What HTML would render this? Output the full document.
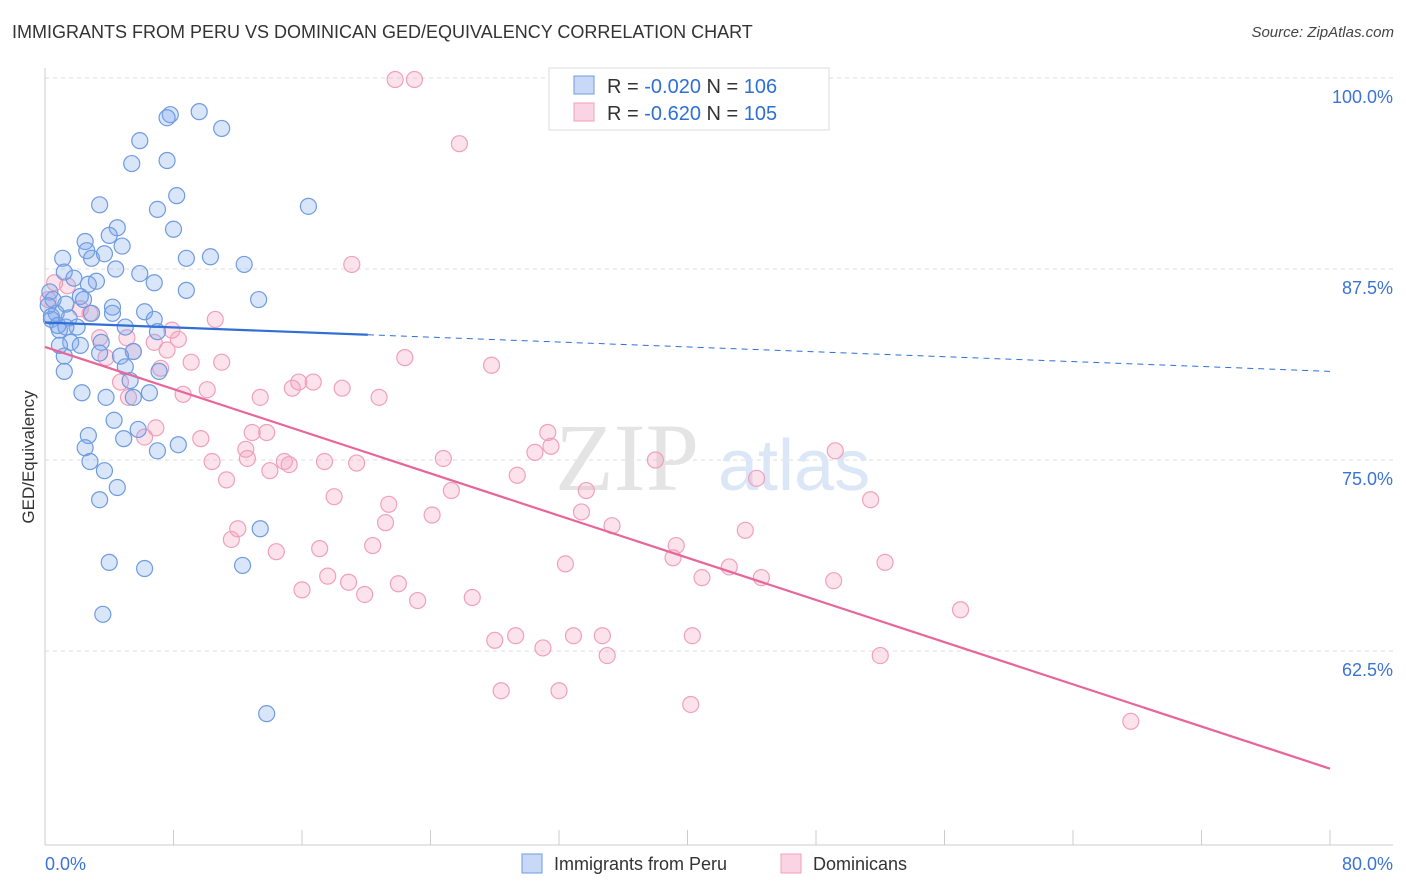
<!DOCTYPE html>
<html><head><meta charset="utf-8"><style>
body{margin:0;background:#fff;font-family:"Liberation Sans",sans-serif;}
#wrap{position:relative;width:1406px;height:892px;overflow:hidden;}
.t{position:absolute;white-space:nowrap;}
</style></head><body>
<div id="wrap">
<div class="t" style="left:12px;top:22px;font-size:18px;color:#333;">IMMIGRANTS FROM PERU VS DOMINICAN GED/EQUIVALENCY CORRELATION CHART</div>
<div class="t" style="right:12px;top:24px;font-size:15px;color:#444;font-style:italic;">Source: ZipAtlas.com</div>
<svg id="svg" width="1406" height="892" style="position:absolute;left:0;top:0"></svg>
</div>
<script>
const blueX=[7.8,7.6,9.6,11.0,5.9,5.4,7.6,8.2,7.0,16.4,3.4,4.5,4.0,8.0,2.5,4.8,2.6,1.1,2.9,3.7,8.8,10.3,12.4,1.2,1.8,4.4,5.9,6.8,3.2,2.7,8.8,13.3,0.3,0.5,1.3,2.2,2.4,4.2,6.2,0.7,1.5,2.9,4.2,6.8,0.4,0.9,2.0,5.0,7.0,1.6,3.5,2.2,5.5,3.4,1.2,4.7,5.0,7.1,1.2,5.3,2.3,3.8,5.5,6.5,4.3,5.8,2.7,4.9,8.3,2.5,7.0,2.8,3.7,4.5,3.4,13.4,4.0,6.2,12.3,3.6,13.8,0.2,0.4,0.8,1.3,0.9];
const blueY=[97.6,97.4,97.8,96.7,95.9,94.4,94.6,92.3,91.4,91.6,91.7,90.2,89.7,90.1,89.3,89.0,88.7,88.2,88.2,88.5,88.2,88.3,87.8,87.3,86.9,87.5,87.2,86.6,86.7,86.5,86.1,85.5,86.0,85.5,85.2,85.7,85.5,85.0,84.7,84.6,84.3,84.6,84.6,84.2,84.2,83.5,83.7,83.7,83.4,82.7,82.7,82.5,82.1,82.0,81.8,81.8,81.1,80.8,80.8,80.2,79.4,79.1,79.1,79.4,77.6,77.0,76.6,76.4,76.0,75.8,75.6,74.9,74.3,73.2,72.4,70.5,68.3,67.9,68.1,64.9,58.4,85.1,84.4,83.8,83.7,82.5];
const pinkX=[21.8,23.0,25.8,19.1,0.6,1.4,0.2,2.2,2.8,10.6,7.9,8.3,3.4,5.1,6.8,7.6,5.5,3.8,9.1,11.0,22.4,27.8,7.2,4.7,15.8,16.7,15.4,18.5,8.6,10.1,13.4,20.8,5.2,6.9,9.7,12.9,13.8,6.2,31.3,31.5,12.5,12.6,10.4,14.9,15.2,17.4,19.4,24.8,30.5,38.0,49.2,14.0,11.3,29.4,44.3,25.3,18.0,21.4,51.4,33.4,24.1,21.2,35.3,43.6,12.0,11.6,20.4,17.1,14.4,39.3,39.1,32.4,42.6,52.3,17.6,18.9,22.0,40.9,44.6,49.1,16.0,19.9,23.2,26.6,57.0,29.3,28.0,32.9,34.7,40.3,31.0,35.0,52.0,28.4,32.0,40.2,67.6,33.7];
const pinkY=[99.9,99.9,95.7,87.8,86.6,86.4,85.5,84.9,84.6,84.2,83.5,82.9,83.0,83.0,82.7,82.2,82.1,81.7,81.4,81.4,81.7,81.2,81.0,80.1,80.1,80.1,79.7,79.7,79.3,79.6,79.1,79.1,79.1,77.1,76.4,76.8,76.8,76.5,76.8,75.9,75.7,75.1,74.9,74.9,74.7,74.9,74.8,75.1,75.5,75.0,75.6,74.3,73.7,74.0,73.8,73.0,72.6,72.1,72.4,71.6,71.4,70.9,70.7,70.4,70.5,69.8,69.4,69.2,69.0,69.4,68.6,68.2,68.0,68.3,67.4,67.0,66.9,67.3,67.3,67.1,66.5,66.2,65.8,66.0,65.2,63.5,63.2,63.5,63.5,63.5,62.7,62.2,62.2,59.9,59.9,59.0,57.9,73.0];
const blueTrend=[84.0,80.8];
const pinkTrend=[82.4,54.8];
const yTicks=[100,87.5,75,62.5];
const xTickVals=[0,8,16,24,32,40,48,56,64,72,80];

const NS="http://www.w3.org/2000/svg",svg=document.getElementById('svg');
const X=v=>45+v/80*1285, Y=v=>78+(100-v)*15.28;
function mk(t,a,p){const e=document.createElementNS(NS,t);for(const k in a)e.setAttribute(k,a[k]);(p||svg).appendChild(e);return e;}
yTicks.forEach(v=>{const l=mk('line',{x1:45,x2:1393,y1:Y(v),y2:Y(v),stroke:'#ddd','stroke-dasharray':'4,4'});

const t=mk('text',{x:1393,y:Y(v)+25,'text-anchor':'end','font-size':18,fill:'#3b73d6'});t.textContent=(v===100?'100.0':v.toFixed(1))+'%';
});
mk('line',{x1:45,x2:45,y1:68,y2:845,stroke:'#ccc'});
mk('line',{x1:45,x2:1393,y1:845,y2:845,stroke:'#ccc'});
xTickVals.forEach(v=>{const l=mk('line',{x1:X(v),x2:X(v),y1:830,y2:845,stroke:'#ccc'});});
const tx0=mk('text',{x:45,y:870,'font-size':18,fill:'#3b73d6'});tx0.textContent='0.0%';
const tx1=mk('text',{x:1393,y:870,'text-anchor':'end','font-size':18,fill:'#3b73d6'});tx1.textContent='80.0%';
const yt=mk('text',{x:34,y:457,'font-size':17,fill:'#333','text-anchor':'middle',transform:'rotate(-90 34 457)'});yt.textContent='GED/Equivalency';
// watermark
const w1=mk('text',{x:555,y:490,'font-size':96,fill:'#e4e4e4','font-family':'Liberation Serif'});w1.textContent='ZIP';
const w2=mk('text',{x:718,y:490,'font-size':72,fill:'#dbe6f6'});w2.textContent='atlas';
pinkX.forEach((x,i)=>{const c=mk('circle',{cx:X(x),cy:Y(pinkY[i]),r:8,fill:'rgba(244,160,190,0.3)',stroke:'#f0a0bc','stroke-width':1.2});
});
blueX.forEach((x,i)=>{const c=mk('circle',{cx:X(x),cy:Y(blueY[i]),r:8,fill:'rgba(130,170,235,0.3)',stroke:'#6f9be0','stroke-width':1.2});
});
const bAt=x=>blueTrend[0]+(blueTrend[1]-blueTrend[0])*x/80;
const bl=mk('line',{x1:X(0),y1:Y(bAt(0)),x2:X(20.1),y2:Y(bAt(20.1)),stroke:'#2f6fd6','stroke-width':2.2});

const bd=mk('line',{x1:X(20.1),y1:Y(bAt(20.1)),x2:X(80),y2:Y(bAt(80)),stroke:'#2f6fd6','stroke-width':1,'stroke-dasharray':'6,5'});

const pl=mk('line',{x1:X(0),y1:Y(pinkTrend[0]),x2:X(80),y2:Y(pinkTrend[1]),stroke:'#e8659a','stroke-width':2.2});

// legend box
const lg=mk('g',{});
mk('rect',{x:549,y:68,width:280,height:62,fill:'#fff',stroke:'#ddd'},lg);
mk('rect',{x:574,y:76,width:20,height:18,fill:'rgba(130,170,235,0.45)',stroke:'#6f9be0'},lg);
mk('rect',{x:574,y:103,width:20,height:18,fill:'rgba(244,160,190,0.45)',stroke:'#f0a0bc'},lg);
[['-0.020','106',93],['-0.620','105',120]].forEach(r=>{
 const t=mk('text',{x:607,y:r[2],'font-size':20,fill:'#333'},lg);
 t.innerHTML='R = <tspan fill="#2f6fd6">'+r[0]+'</tspan>   N = <tspan fill="#2f6fd6">'+r[1]+'</tspan>';
 t.setAttribute('xml:space','preserve');});
// bottom legend
const b1=mk('rect',{x:522,y:854,width:20,height:19,fill:'rgba(130,170,235,0.45)',stroke:'#6f9be0'});
const bt1=mk('text',{x:554,y:870,'font-size':18,fill:'#333'});bt1.textContent='Immigrants from Peru';
const b2=mk('rect',{x:781,y:854,width:20,height:19,fill:'rgba(244,160,190,0.45)',stroke:'#f0a0bc'});
const bt2=mk('text',{x:813,y:870,'font-size':18,fill:'#333'});bt2.textContent='Dominicans';
</script>
</body></html>
